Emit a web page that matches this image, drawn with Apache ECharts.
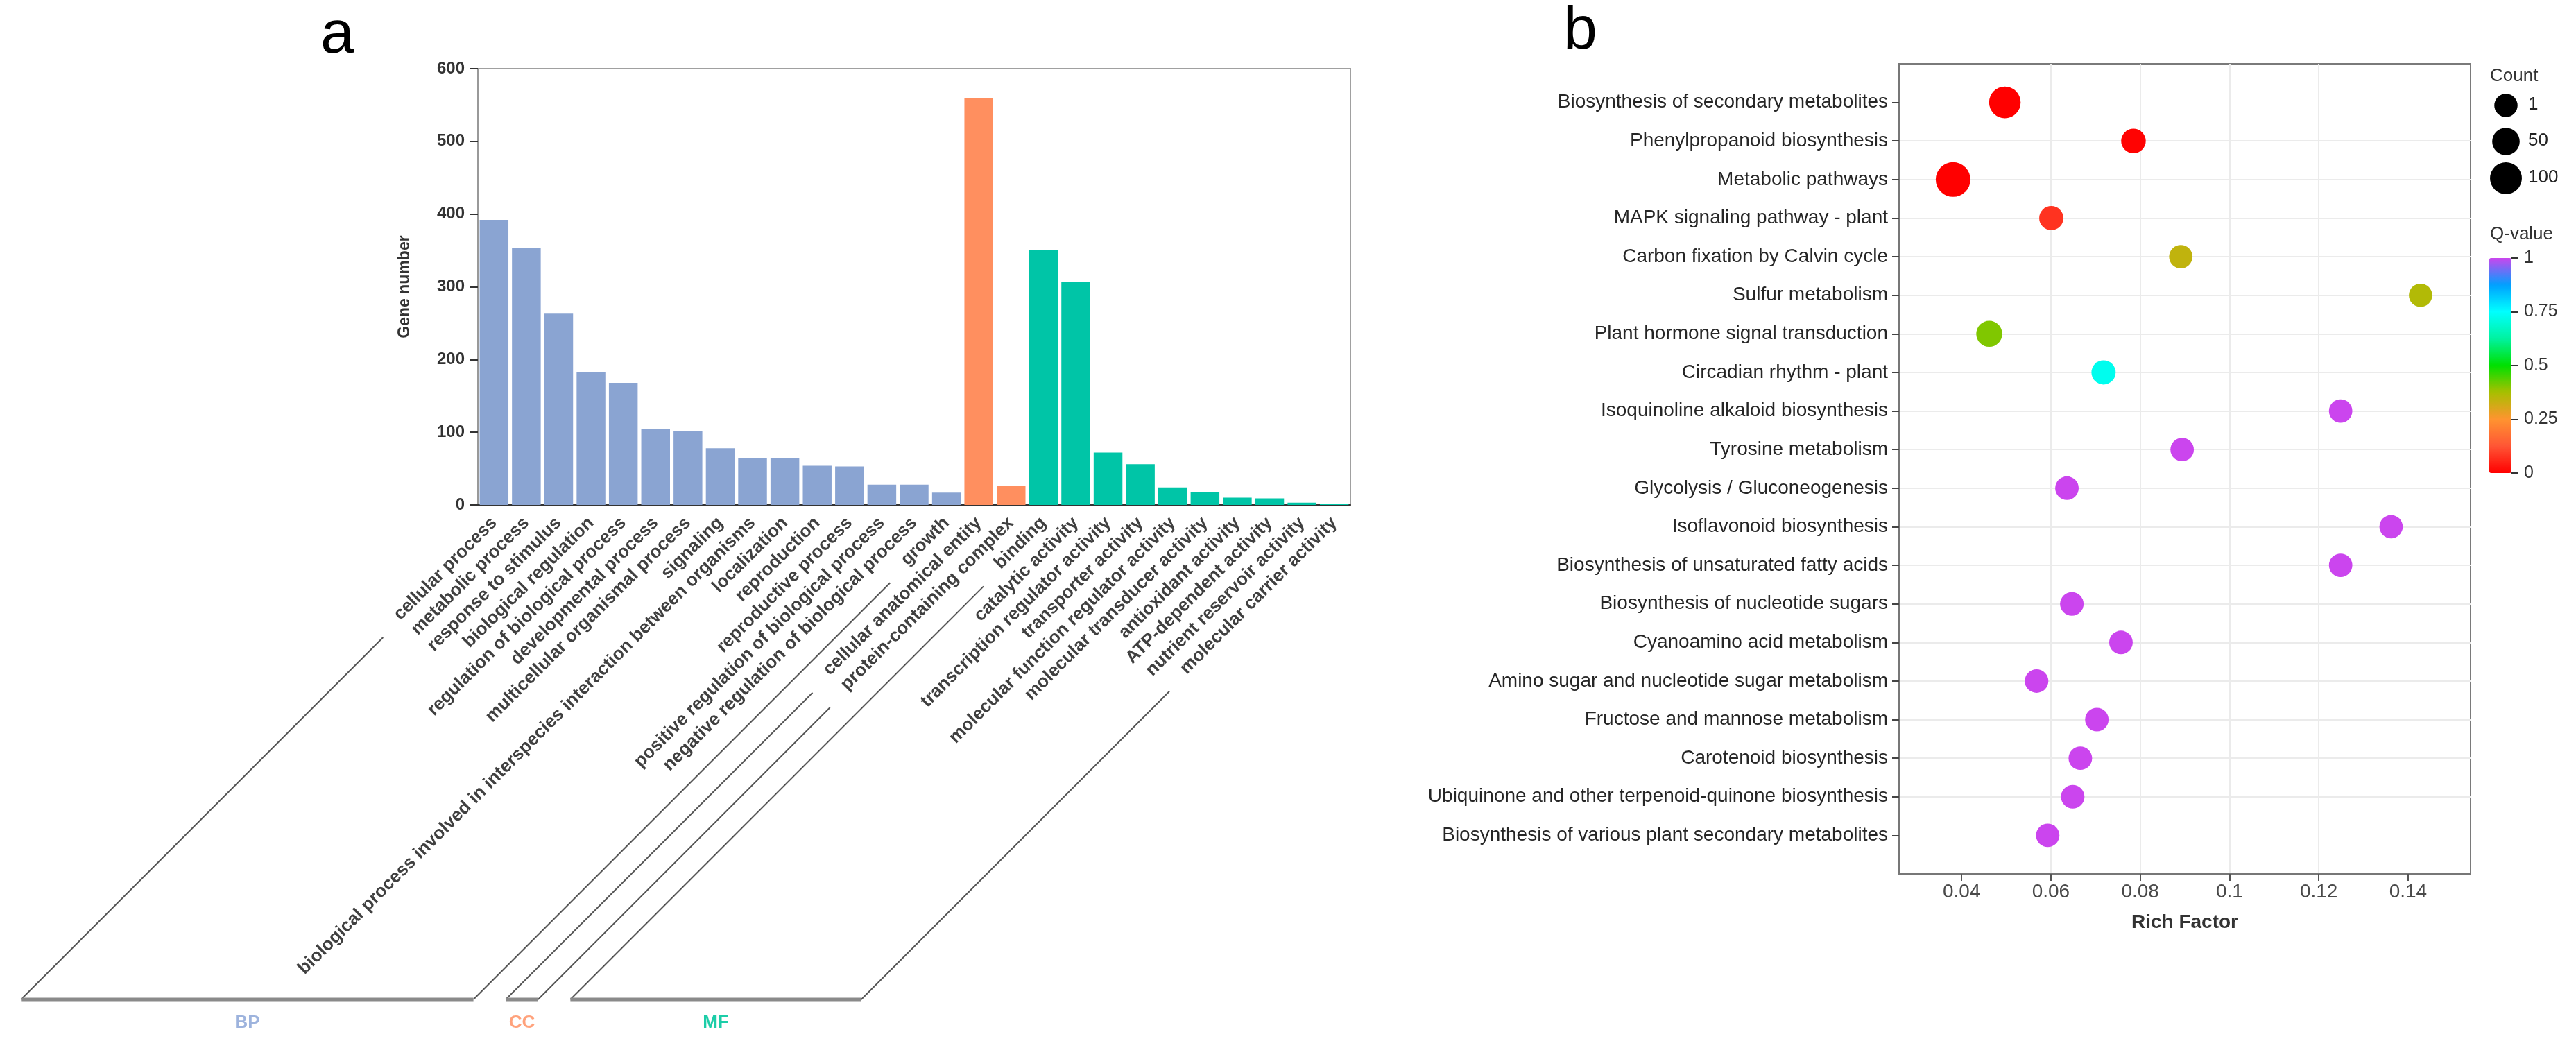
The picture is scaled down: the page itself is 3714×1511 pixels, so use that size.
<!DOCTYPE html>
<html>
<head>
<meta charset="utf-8">
<script src="https://cdn.jsdelivr.net/npm/echarts@6/dist/echarts.min.js"></script>
<style>
html,body{margin:0;padding:0;background:#fff;}
#c{width:3714px;height:1511px;}
</style>
</head>
<body>
<div id="c"></div>
<script>
// ---------- Panel a: GO annotation ----------
const goTerms = ['cellular process','metabolic process','response to stimulus','biological regulation','regulation of biological process','developmental process','multicellular organismal process','signaling','biological process involved in interspecies interaction between organisms','localization','reproduction','reproductive process','positive regulation of biological process','negative regulation of biological process','growth','cellular anatomical entity','protein-containing complex','binding','catalytic activity','transcription regulator activity','transporter activity','molecular function regulator activity','molecular transducer activity','antioxidant activity','ATP-dependent activity','nutrient reservoir activity','molecular carrier activity'];
const goCounts = [392,353,263,183,168,105,101,78,64,64,54,53,28,28,17,560,26,351,307,72,56,24,18,10,9,3,1];
const goGroups = ['BP','BP','BP','BP','BP','BP','BP','BP','BP','BP','BP','BP','BP','BP','BP','CC','CC','MF','MF','MF','MF','MF','MF','MF','MF','MF','MF'];
const groupNames = ['BP','CC','MF'];
const groupColors = {BP:'#8AA4D2', CC:'#FF8F5F', MF:'#00C5A7'};
const groupLabelColors = {BP:'#9DB3DD', CC:'#FFA27C', MF:'#1CCDA8'};
const geneTicks = [0,100,200,300,400,500,600];

// ---------- Panel b: KEGG enrichment ----------
const pathways = ['Biosynthesis of secondary metabolites','Phenylpropanoid biosynthesis','Metabolic pathways','MAPK signaling pathway - plant','Carbon fixation by Calvin cycle','Sulfur metabolism','Plant hormone signal transduction','Circadian rhythm - plant','Isoquinoline alkaloid biosynthesis','Tyrosine metabolism','Glycolysis / Gluconeogenesis','Isoflavonoid biosynthesis','Biosynthesis of unsaturated fatty acids','Biosynthesis of nucleotide sugars','Cyanoamino acid metabolism','Amino sugar and nucleotide sugar metabolism','Fructose and mannose metabolism','Carotenoid biosynthesis','Ubiquinone and other terpenoid-quinone biosynthesis','Biosynthesis of various plant secondary metabolites'];
const richFactor = [0.0497,0.0785,0.0381,0.0601,0.0891,0.1428,0.0462,0.0718,0.1249,0.0894,0.0636,0.1362,0.1249,0.0647,0.0757,0.0568,0.0703,0.0666,0.0649,0.0593];
const geneCount = [97,17,133,12,3,2,33,12,3,3,4,2,3,5,4,5,4,4,4,3];
const qValue = [0.0,0.005,0.0,0.075,0.34,0.36,0.405,0.727,1,1,1,1,1,1,1,1,1,1,1,1];
const richTicks = [0.04,0.06,0.08,0.1,0.12,0.14];
const countLegend = [1,50,100];
const qTicks = [0,0.25,0.5,0.75,1];
const qColors = ['#FF0000','#FF5535','#FF9430','#A8BF00','#00E000','#00F2A0','#00FFFF','#00A0FF','#CB45EE'];

const FONT = '"Liberation Sans", Arial, sans-serif';
const sizeOf = c => 33.4 + 0.125 * c;
const rowTicks = pathways.map((p, i) => i + 1);

const chart = echarts.init(document.getElementById('c'), null, {renderer:'canvas', width:3714, height:1511});

const option = {
  animation: false,
  backgroundColor: '#fff',
  textStyle: {fontFamily: FONT},
  grid: [
    {left: 689, top: 99, width: 1258, height: 629, show: true, borderColor: '#a0a0a0', borderWidth: 2, containLabel: false},
    {left: 2738, top: 92, width: 824, height: 1168, show: true, borderColor: '#7a7a7a', borderWidth: 2, containLabel: false},
    {left: 3589, top: 372, width: 32, height: 310, show: false}
  ],
  xAxis: [
    {
      type: 'category', gridIndex: 0, data: goTerms,
      axisLine: {onZero: false, lineStyle: {color: '#333', width: 2}},
      axisTick: {alignWithLabel: true, length: 14, lineStyle: {color: '#333', width: 2}},
      axisLabel: {interval: 0, rotate: 45, fontSize: 26, fontWeight: 'bold', color: '#404040', margin: 22, fontFamily: FONT},
      splitLine: {show: false}
    },
    {
      type: 'value', gridIndex: 1, position: 'bottom', min: 0.026, max: 0.154, splitNumber: 6, minInterval: 0.02, maxInterval: 0.02,
      axisLine: {show: true, onZero: false, lineStyle: {color: '#777', width: 2}},
      axisTick: {show: true, length: 10, customValues: richTicks, lineStyle: {color: '#555', width: 2}},
      axisLabel: {fontSize: 28, color: '#4a4a4a', margin: 12, fontFamily: FONT, customValues: richTicks,
        formatter: v => richTicks.some(t => Math.abs(t - v) < 1e-6) ? String(+v.toFixed(2)) : ''},
      splitLine: {show: true, showMinLine: false, showMaxLine: false, lineStyle: {color: '#ebebeb', width: 2}},
      name: 'Rich Factor', nameLocation: 'middle', nameGap: 56,
      nameTextStyle: {fontSize: 28, fontWeight: 'bold', color: '#333', fontFamily: FONT}
    },
    {type: 'value', gridIndex: 2, show: false, min: 0, max: 1}
  ],
  yAxis: [
    {
      type: 'value', gridIndex: 0, min: 0, max: 600, interval: 100,
      axisLine: {show: true, onZero: false, lineStyle: {color: '#999', width: 2}},
      axisTick: {show: true, length: 12, lineStyle: {color: '#333', width: 2}},
      axisLabel: {fontSize: 24, fontWeight: 'bold', color: '#333', margin: 19, fontFamily: FONT},
      splitLine: {show: false},
      name: 'Gene number', nameLocation: 'middle', nameGap: 94,
      nameTextStyle: {fontSize: 23, fontWeight: 'bold', color: '#333', fontFamily: FONT}
    },
    {
      type: 'value', gridIndex: 1, position: 'left', min: 0, max: pathways.length + 1, interval: 1, inverse: true,
      axisLine: {show: true, onZero: false, lineStyle: {color: '#777', width: 2}},
      axisTick: {show: true, length: 10, customValues: rowTicks, lineStyle: {color: '#444', width: 2}},
      axisLabel: {fontSize: 28, color: '#262626', margin: 16, fontFamily: FONT, customValues: rowTicks,
        formatter: v => pathways[v - 1] || ''},
      splitLine: {show: true, showMinLine: false, showMaxLine: false, lineStyle: {color: '#ebebeb', width: 2}}
    },
    {
      type: 'value', gridIndex: 2, position: 'right', min: 0, max: 1, interval: 0.25,
      axisLine: {show: false, onZero: false},
      axisTick: {show: true, length: 10, lineStyle: {color: '#333', width: 2}},
      axisLabel: {fontSize: 25, color: '#333', margin: 18, fontFamily: FONT,
        formatter: v => qTicks.some(t => Math.abs(t - v) < 1e-6) ? String(v) : ''},
      splitLine: {show: false}
    }
  ],
  visualMap: [{
    type: 'continuous', seriesIndex: 1, dimension: 2, min: 0, max: 1,
    inRange: {color: qColors},
    show: true, calculable: false, orient: 'vertical',
    left: 3589, top: 372, itemWidth: 32, itemHeight: 310, padding: 0, text: null,
    textStyle: {fontSize: 0}
  }],
  series: [
    {
      type: 'bar', xAxisIndex: 0, yAxisIndex: 0, barCategoryGap: '11%',
      data: goCounts.map((v, i) => ({value: v, itemStyle: {color: groupColors[goGroups[i]]}}))
    },
    {
      type: 'scatter', xAxisIndex: 1, yAxisIndex: 1, symbol: 'circle',
      data: pathways.map((p, i) => [richFactor[i], i + 1, qValue[i], geneCount[i]]),
      symbolSize: d => sizeOf(d[3]),
      itemStyle: {opacity: 1}
    }
  ]
};
chart.setOption(option);

// ---------- annotations (panel letters, legend, GO group brackets) ----------
const g = [];
g.push({type: 'text', left: 462, top: 8, style: {text: 'a', font: '88px ' + FONT, fill: '#000'}});
g.push({type: 'text', left: 2254, top: 2, style: {text: 'b', font: '88px ' + FONT, fill: '#000'}});

// Count legend
g.push({type: 'text', left: 3590, top: 97, style: {text: 'Count', font: '26px ' + FONT, fill: '#333'}});
const legY = [152, 204, 257];
countLegend.forEach((c, i) => {
  const r = sizeOf(c) / 2;
  g.push({type: 'circle', shape: {cx: 3613, cy: legY[i], r: r}, style: {fill: '#000'}});
  g.push({type: 'text', left: 3645, top: legY[i] - 14, style: {text: String(c), font: '26px ' + FONT, fill: '#222'}});
});
g.push({type: 'text', left: 3590, top: 325, style: {text: 'Q-value', font: '26px ' + FONT, fill: '#333'}});

// GO group brackets
const ctx = document.createElement('canvas').getContext('2d');
ctx.font = 'bold 26px ' + FONT;
const axisY = chart.convertToPixel({yAxisIndex: 0}, 0);
const lineY0 = axisY + 31;      // where label direction crosses tick x
const baseY = axisY + 713;      // bracket baseline
groupNames.forEach(name => {
  const idx = goGroups.map((gg, i) => gg === name ? i : -1).filter(i => i >= 0);
  const first = idx[0], last = idx[idx.length - 1];
  const ends = [first, last].map(i => {
    const tx = chart.convertToPixel({xAxisIndex: 0}, i);
    const L = ctx.measureText(goTerms[i]).width / Math.SQRT2 + 20;
    return {top: [tx - L, lineY0 + L], bottom: [tx - (baseY - lineY0), baseY]};
  });
  ends.forEach(e => g.push({type: 'line', shape: {x1: e.top[0], y1: e.top[1], x2: e.bottom[0], y2: e.bottom[1]}, style: {stroke: '#555', lineWidth: 2}}));
  g.push({type: 'line', shape: {x1: ends[0].bottom[0], y1: baseY, x2: ends[1].bottom[0], y2: baseY}, style: {stroke: '#8a8a8a', lineWidth: 5}});
  const cx = (ends[0].bottom[0] + ends[1].bottom[0]) / 2;
  g.push({type: 'text', x: cx, y: baseY + 34, style: {text: name, font: 'bold 26px ' + FONT, fill: groupLabelColors[name], align: 'center', verticalAlign: 'middle'}});
});
chart.setOption({graphic: g});
</script>
</body>
</html>
